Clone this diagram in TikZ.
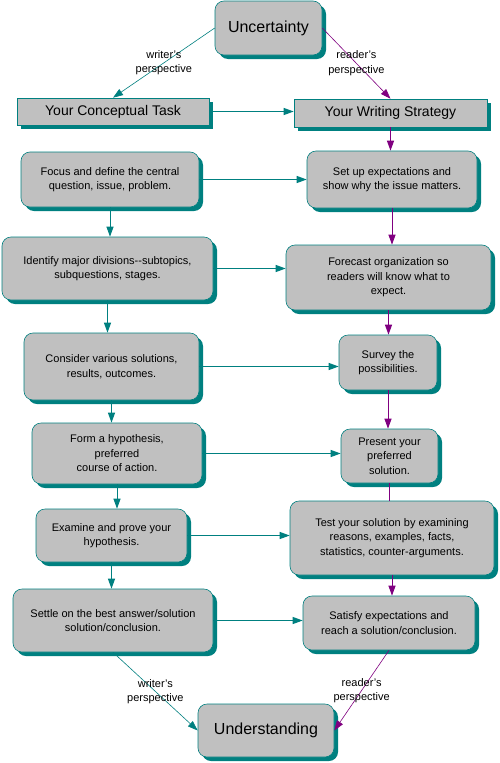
\documentclass[tikz,border=0pt]{standalone}
\usepackage{fontspec}
\setmainfont{Liberation Sans}
\usepackage{xcolor}
\usetikzlibrary{arrows.meta}
\usetikzlibrary{shadows}
\usetikzlibrary{positioning}

\definecolor{boxgray}{RGB}{192,192,192}
\definecolor{darkteal}{RGB}{0,128,128}
\definecolor{darkpurple}{RGB}{128,0,128}

\begin{document}
\begin{tikzpicture}[x=1pt,y=-1pt,
    stepbox/.style={draw=darkteal, fill=boxgray, rounded corners=9pt, line width=0.6pt,
      align=center, inner sep=0pt, font=\fontsize{11}{14.5}\selectfont,
      drop shadow={shadow xshift=4pt, shadow yshift=-4pt, fill=darkteal, opacity=1}},
    headbox/.style={stepbox, rounded corners=0pt, font=\fontsize{14}{16}\selectfont},
    endbox/.style={stepbox, font=\fontsize{16}{18}\selectfont},
    wline/.style={darkteal, line width=1pt, -{Triangle[length=10pt,width=7pt]}},
    rline/.style={darkpurple, line width=1pt, -{Triangle[length=10pt,width=7pt]}},
    persp/.style={align=center, text=black, font=\fontsize{11}{14.5}\selectfont}]

  \useasboundingbox[fill=white] (0,0) rectangle (500,763);

  % top and bottom
  \node[endbox, minimum width=107, minimum height=54] (unc) at (268.5,28) {Uncertainty};
  \node[endbox, minimum width=136, minimum height=53] (under) at (266,730.5) {Understanding};

  % the two headings
  \node[headbox, minimum width=192, minimum height=27] (task) at (113,111.5) {Your Conceptual Task};
  \node[headbox, minimum width=193, minimum height=28] (strat) at (390.5,113) {Your Writing Strategy};

  % writer's column
  \node[stepbox, minimum width=178, minimum height=55] (focus) at (110,179.5)
    {Focus and define the central\\question, issue, problem.};
  \node[stepbox, minimum width=211, minimum height=63] (ident) at (107.5,268.5)
    {Identify major divisions-{}-subtopics,\\subquestions, stages.};
  \node[stepbox, minimum width=175, minimum height=67] (consid) at (111.5,366.5)
    {Consider various solutions,\\results, outcomes.};
  \node[stepbox, minimum width=170, minimum height=61] (form) at (117,453.5)
    {Form a hypothesis,\\preferred\\course of action.};
  \node[stepbox, minimum width=151, minimum height=53] (exam) at (111.5,535.5)
    {Examine and prove your\\hypothesis.};
  \node[stepbox, minimum width=200, minimum height=63] (settle) at (113,620.5)
    {Settle on the best answer/solution\\solution/conclusion.};

  % reader's column
  \node[stepbox, minimum width=170, minimum height=57] (setup) at (392,179.5)
    {Set up expectations and\\show why the issue matters.};
  \node[stepbox, minimum width=205, minimum height=65] (fore) at (388.5,277.5)
    {Forecast organization so\\readers will know what to\\expect.};
  \node[stepbox, minimum width=98, minimum height=55] (survey) at (388,362.5)
    {Survey the\\possibilities.};
  \node[stepbox, minimum width=97, minimum height=54] (present) at (389.5,456)
    {Present your\\preferred\\solution.};
  \node[stepbox, minimum width=204, minimum height=74] (test) at (392,538)
    {Test your solution by examining\\reasons, examples, facts,\\statistics, counter-arguments.};
  \node[stepbox, minimum width=172, minimum height=54] (satisfy) at (389,623)
    {Satisfy expectations and\\reach a solution/conclusion.};

  % perspectives
  \draw[wline, line width=0.6pt] (unc.west) -- (task.north)
    node[persp, midway] {writer's\\perspective};
  \draw[rline, line width=0.6pt] (unc.east) -- (strat.north)
    node[persp, midway] {reader's\\perspective};
  \draw[wline, line width=0.6pt] (settle.south) -- (under.west)
    node[persp, midway] {writer's\\perspective};
  \draw[rline, line width=0.6pt] (satisfy.south) -- (under.east)
    node[persp, midway] {reader's\\perspective};

  % down the writer's side
  \draw[wline] (focus.south) -- (focus.south |- ident.north);
  \draw[wline] (ident.south) -- (ident.south |- consid.north);
  \draw[wline] (consid.south) -- (consid.south |- form.north);
  \draw[wline] (form.south) -- (form.south |- exam.north);
  \draw[wline] (exam.south) -- (exam.south |- settle.north);

  % down the reader's side
  \draw[rline] (strat.south) -- (strat.south |- setup.north);
  \draw[rline] (setup.south) -- (setup.south |- fore.north);
  \draw[rline] (fore.south) -- (fore.south |- survey.north);
  \draw[rline] (survey.south) -- (survey.south |- present.north);
  \draw[darkpurple, line width=1pt] (present.south) -- (present.south |- test.north);
  \draw[rline] (test.south) -- (test.south |- satisfy.north);

  % across
  \draw[wline] (task.east) -- (task.east -| strat.west);
  \draw[wline] (focus.east) -- (focus.east -| setup.west);
  \draw[wline] (ident.east) -- (ident.east -| fore.west);
  \draw[wline] (consid.east) -- (consid.east -| survey.west);
  \draw[wline] (form.east) -- (form.east -| present.west);
  \draw[wline] (exam.east) -- (exam.east -| test.west);
  \draw[wline] (settle.east) -- (settle.east -| satisfy.west);

\end{tikzpicture}
\end{document}
